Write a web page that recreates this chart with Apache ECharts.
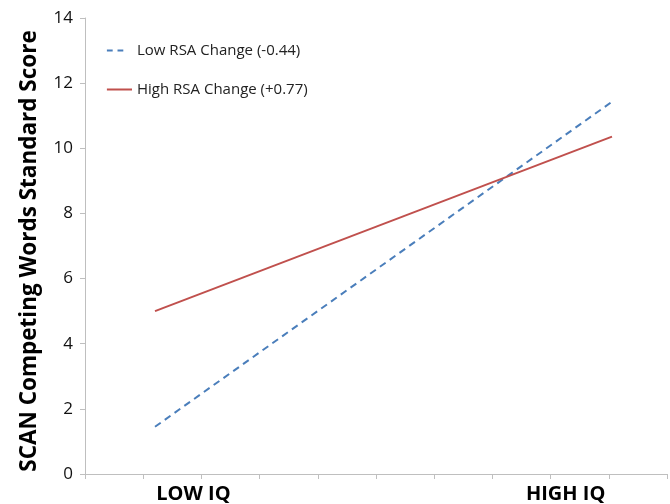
<!DOCTYPE html>
<html>
<head>
<meta charset="utf-8">
<script src="https://cdn.jsdelivr.net/npm/echarts@6/dist/echarts.min.js"></script>
<style>html,body{margin:0;padding:0;background:#fff}#c{width:670px;height:504px}</style>
</head>
<body>
<div id="c"></div>
<script>
var categories = ['LOW IQ', 'HIGH IQ'];
var lowRSA = [1.45, 11.43];
var highRSA = [5.0, 10.36];
var seriesNames = ['Low RSA Change (-0.44)', 'High RSA Change (+0.77)'];
var yTicks = [0, 2, 4, 6, 8, 10, 12, 14];
var yTitle = 'SCAN Competing Words Standard Score';

var FONT = '"Open Sans", Lato, sans-serif';
var chart = echarts.init(document.getElementById('c'), null, {renderer: 'canvas'});
var axisGray = '#bfbfbf';
var blue = '#4a7ebb', red = '#c0504d';
chart.setOption({
  animation: false,
  backgroundColor: '#fff',
  grid: [
    {left: 85, right: 0, top: 18, bottom: 30},
    {left: 155, right: 58, top: 18, bottom: 30}
  ],
  legend: {
    orient: 'vertical', left: 104, top: 43, itemGap: 24, padding: 0,
    itemWidth: 28, itemHeight: 20,
    textStyle: {fontFamily: FONT, fontSize: 15, color: '#222'},
    data: [
      {name: seriesNames[0], icon: 'path://M0,0h0.01v2h-0.01z M3,0h6v2h-6z M14,0h6v2h-6z M29,0h0.01v2h-0.01z', itemStyle: {color: blue}},
      {name: seriesNames[1], icon: 'path://M0,0h0.01v2h-0.01z M3,0h26v2h-26z', itemStyle: {color: red}}
    ]
  },
  xAxis: [
    {
      type: 'value', gridIndex: 0, min: 0, max: 10, interval: 1,
      axisLine: {show: true, lineStyle: {color: axisGray}},
      axisTick: {show: true, length: 5, lineStyle: {color: axisGray}},
      splitLine: {show: false},
      axisLabel: {
        margin: 10,
        formatter: function (v) {
          if (v === 2) return '{l|' + categories[0] + '}';
          if (v === 8) return '{h|' + categories[1] + '}';
          return '';
        },
        rich: {
          l: {fontFamily: FONT, fontWeight: 'bold', fontSize: 20, color: '#000', padding: [0, 16, 0, 0]},
          h: {fontFamily: FONT, fontWeight: 'bold', fontSize: 20, color: '#000', padding: [0, 0, 0, 30]}
        }
      }
    },
    {
      type: 'category', gridIndex: 1, data: categories, boundaryGap: false,
      show: false
    }
  ],
  yAxis: [
    {
      type: 'value', gridIndex: 0, min: yTicks[0], max: yTicks[yTicks.length - 1], interval: 2,
      name: yTitle, nameLocation: 'middle', nameGap: 44,
      nameTextStyle: {fontFamily: FONT, fontWeight: 'bold', fontSize: 22.5, color: '#000', padding: [0, 10, 0, 0]},
      axisLine: {show: true, lineStyle: {color: axisGray}},
      axisTick: {show: true, length: 5, lineStyle: {color: axisGray}},
      splitLine: {show: false},
      axisLabel: {fontFamily: FONT, fontSize: 17, color: '#111', margin: 12}
    },
    {
      type: 'value', gridIndex: 1, min: yTicks[0], max: yTicks[yTicks.length - 1], show: false
    }
  ],
  series: [
    {
      name: seriesNames[0], type: 'line', xAxisIndex: 1, yAxisIndex: 1,
      data: lowRSA, symbol: 'none',
      lineStyle: {color: blue, width: 2, type: [7, 5]},
      itemStyle: {color: blue}
    },
    {
      name: seriesNames[1], type: 'line', xAxisIndex: 1, yAxisIndex: 1,
      data: highRSA, symbol: 'none',
      lineStyle: {color: red, width: 2},
      itemStyle: {color: red}
    }
  ]
});
</script>
</body>
</html>
